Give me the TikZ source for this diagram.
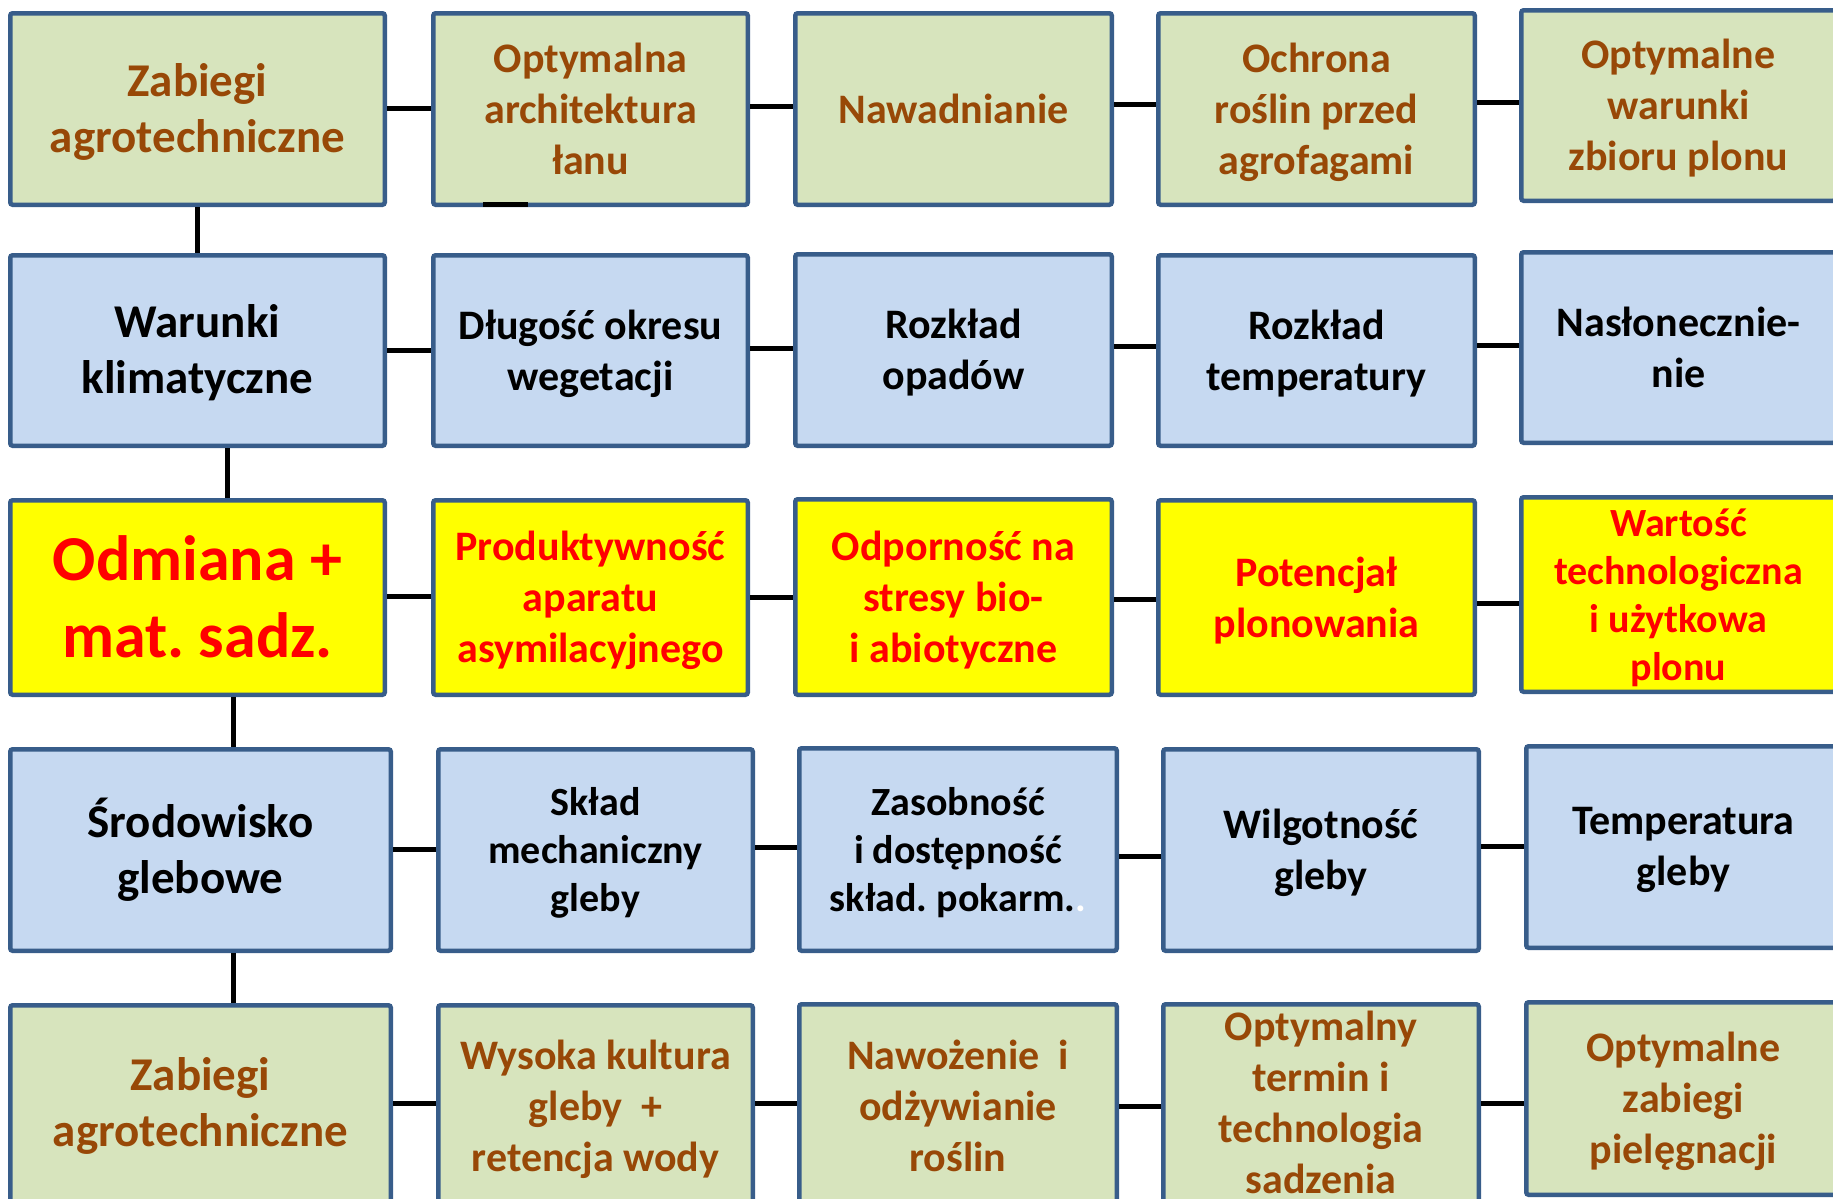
\documentclass[tikz,border=0pt]{standalone}
\usepackage{fontspec}
\setmainfont{Carlito}
\usetikzlibrary{calc}
\frenchspacing
\definecolor{bordc}{HTML}{385D8A}
\definecolor{greenf}{HTML}{D7E4BD}
\definecolor{bluef}{HTML}{C6D9F1}
\definecolor{brownt}{HTML}{984807}
\definecolor{yellowf}{HTML}{FFFF00}
\definecolor{redt}{HTML}{FF0000}
% #1 name, #2-#5 outer box corners (px), #6 box style, #7 text style, #8 text
\newcommand{\bx}[8]{%
  \node[#6, minimum width={(#4-#2-4.5)*0.5pt}, minimum height={(#5-#3-4.5)*0.5pt}] (#1) at ({(#2+#4)/2},{(#3+#5)/2}) {};
  \node[txt,#7] (#1t) at ([yshift=-3.5pt]#1.center) {#8};}
\newcommand{\hc}[3]{%
  \coordinate (h#1#2) at (0,#3);
  \draw[conn] (#1.east |- h#1#2) -- (#2.west |- h#1#2);}
\tikzset{
  box/.style={draw=bordc, line width=2.25pt, rounded corners=1.2pt, inner sep=0pt},
  gbox/.style={box, fill=greenf},
  bbox/.style={box, fill=bluef},
  ybox/.style={box, fill=yellowf},
  txt/.style={inner sep=0pt, align=center, execute at begin node={\strut}, execute at end node={\strut}},
  gt/.style={text=brownt},
  bt/.style={text=black},
  yt/.style={text=redt},
  fbig/.style={font=\fontsize{23.5}{28}\selectfont\bfseries},
  fhuge/.style={font=\fontsize{32}{38.5}\selectfont\bfseries},
  fmid/.style={font=\fontsize{21}{25.5}\selectfont\bfseries},
  fsm/.style={font=\fontsize{20}{24}\selectfont\bfseries},
  conn/.style={line width=2.5pt, black},
}
\begin{document}
\begin{tikzpicture}[x=0.5pt,y=-0.5pt]
\useasboundingbox (0,0) rectangle (1833,1199);
\fill[white] (0,0) rectangle (1833,1199);
\clip (0,0) rectangle (1833,1199);
% Row 1
\bx{a1}{8}{11}{387}{207}{gbox}{gt,fbig}{Zabiegi\\agrotechniczne}
\bx{a2}{431}{11}{750}{207}{gbox}{gt,fmid}{Optymalna\\architektura\\łanu}
\bx{a3}{793}{11}{1114}{207}{gbox}{gt,fmid,yshift=1.5pt}{Nawadnianie}
\bx{a4}{1156}{11}{1477}{207}{gbox}{gt,fmid}{Ochrona\\roślin przed\\agrofagami}
\bx{a5}{1519}{8}{1838}{203}{gbox}{gt,fmid}{Optymalne\\warunki\\zbioru plonu}
% Row 2
\bx{b1}{8}{253}{387}{448}{bbox}{bt,fbig}{Warunki\\klimatyczne}
\bx{b2}{431}{253}{750}{448}{bbox}{bt,fmid}{Długość okresu\\wegetacji}
\bx{b3}{793}{252}{1114}{448}{bbox}{bt,fmid}{Rozkład\\opadów}
\bx{b4}{1156}{253}{1477}{448}{bbox}{bt,fmid}{Rozkład\\temperatury}
\bx{b5}{1519}{250}{1838}{445}{bbox}{bt,fmid}{Nasłonecznie-\\nie}
% Row 3
\bx{c1}{8}{498}{387}{697}{ybox}{yt,fhuge,yshift=-2pt}{Odmiana +\\mat. sadz.}
\bx{c2}{431}{498}{750}{697}{ybox}{yt,fmid}{Produktywność\\aparatu\\asymilacyjnego}
\bx{c3}{793}{497}{1114}{697}{ybox}{yt,fmid}{Odporność na\\stresy bio-\\i abiotyczne}
\bx{c4}{1156}{498}{1477}{697}{ybox}{yt,fmid}{Potencjał\\plonowania}
\bx{c5}{1519}{495}{1838}{694}{ybox}{yt,fsm}{Wartość\\technologiczna\\i użytkowa\\plonu}
% Row 4
\bx{d1}{8}{747}{393}{953}{bbox}{bt,fbig,yshift=1.5pt}{Środowisko\\glebowe}
\bx{d2}{436}{747}{755}{953}{bbox}{bt,fsm}{Skład\\mechaniczny\\gleby}
\bx{d3}{797}{746}{1119}{953}{bbox}{bt,fsm}{Zasobność\\i dostępność\\skład. pokarm.\textcolor{white}{.}}
\bx{d4}{1161}{747}{1481}{953}{bbox}{bt,fmid}{Wilgotność\\gleby}
\bx{d5}{1524}{744}{1843}{950}{bbox}{bt,fmid}{Temperatura\\gleby}
% Row 5
\bx{e1}{8}{1003}{393}{1210}{gbox}{gt,fbig,yshift=1.5pt}{Zabiegi\\agrotechniczne}
\bx{e2}{436}{1003}{755}{1210}{gbox}{gt,fmid}{Wysoka kultura\\gleby~~+\\retencja wody}
\bx{e3}{797}{1002}{1119}{1210}{gbox}{gt,fmid}{Nawożenie~~i\\odżywianie\\roślin}
\bx{e4}{1161}{1002}{1481}{1210}{gbox}{gt,fmid,yshift=1.5pt}{Optymalny\\termin i\\technologia\\sadzenia}
\bx{e5}{1524}{1000}{1843}{1197}{gbox}{gt,fmid}{Optymalne\\zabiegi\\pielęgnacji}
% horizontal connectors
\hc{a1}{a2}{108} \hc{a2}{a3}{106} \hc{a3}{a4}{104} \hc{a4}{a5}{102}
\hc{b1}{b2}{350} \hc{b2}{b3}{348} \hc{b3}{b4}{346} \hc{b4}{b5}{345}
\hc{c1}{c2}{596} \hc{c2}{c3}{597} \hc{c3}{c4}{599} \hc{c4}{c5}{603}
\hc{d1}{d2}{849} \hc{d2}{d3}{847} \hc{d3}{d4}{856} \hc{d4}{d5}{846}
\hc{e1}{e2}{1103} \hc{e2}{e3}{1103} \hc{e3}{e4}{1106} \hc{e4}{e5}{1103}
% vertical connectors
\draw[conn] (a1.south) -- (b1.north);
\draw[conn] ([xshift=15pt]b1.south) -- ([xshift=15pt]c1.north);
\draw[conn] ([xshift=17.75pt]c1.south) -- ([xshift=16.25pt]d1.north);
\draw[conn] ([xshift=16.25pt]d1.south) -- ([xshift=16.25pt]e1.north);
% small stub on bottom edge of a2
\draw[conn] ([xshift=26pt,yshift=1.5pt]a2.south west) -- ++(22.5pt,0);
\end{tikzpicture}
\end{document}
